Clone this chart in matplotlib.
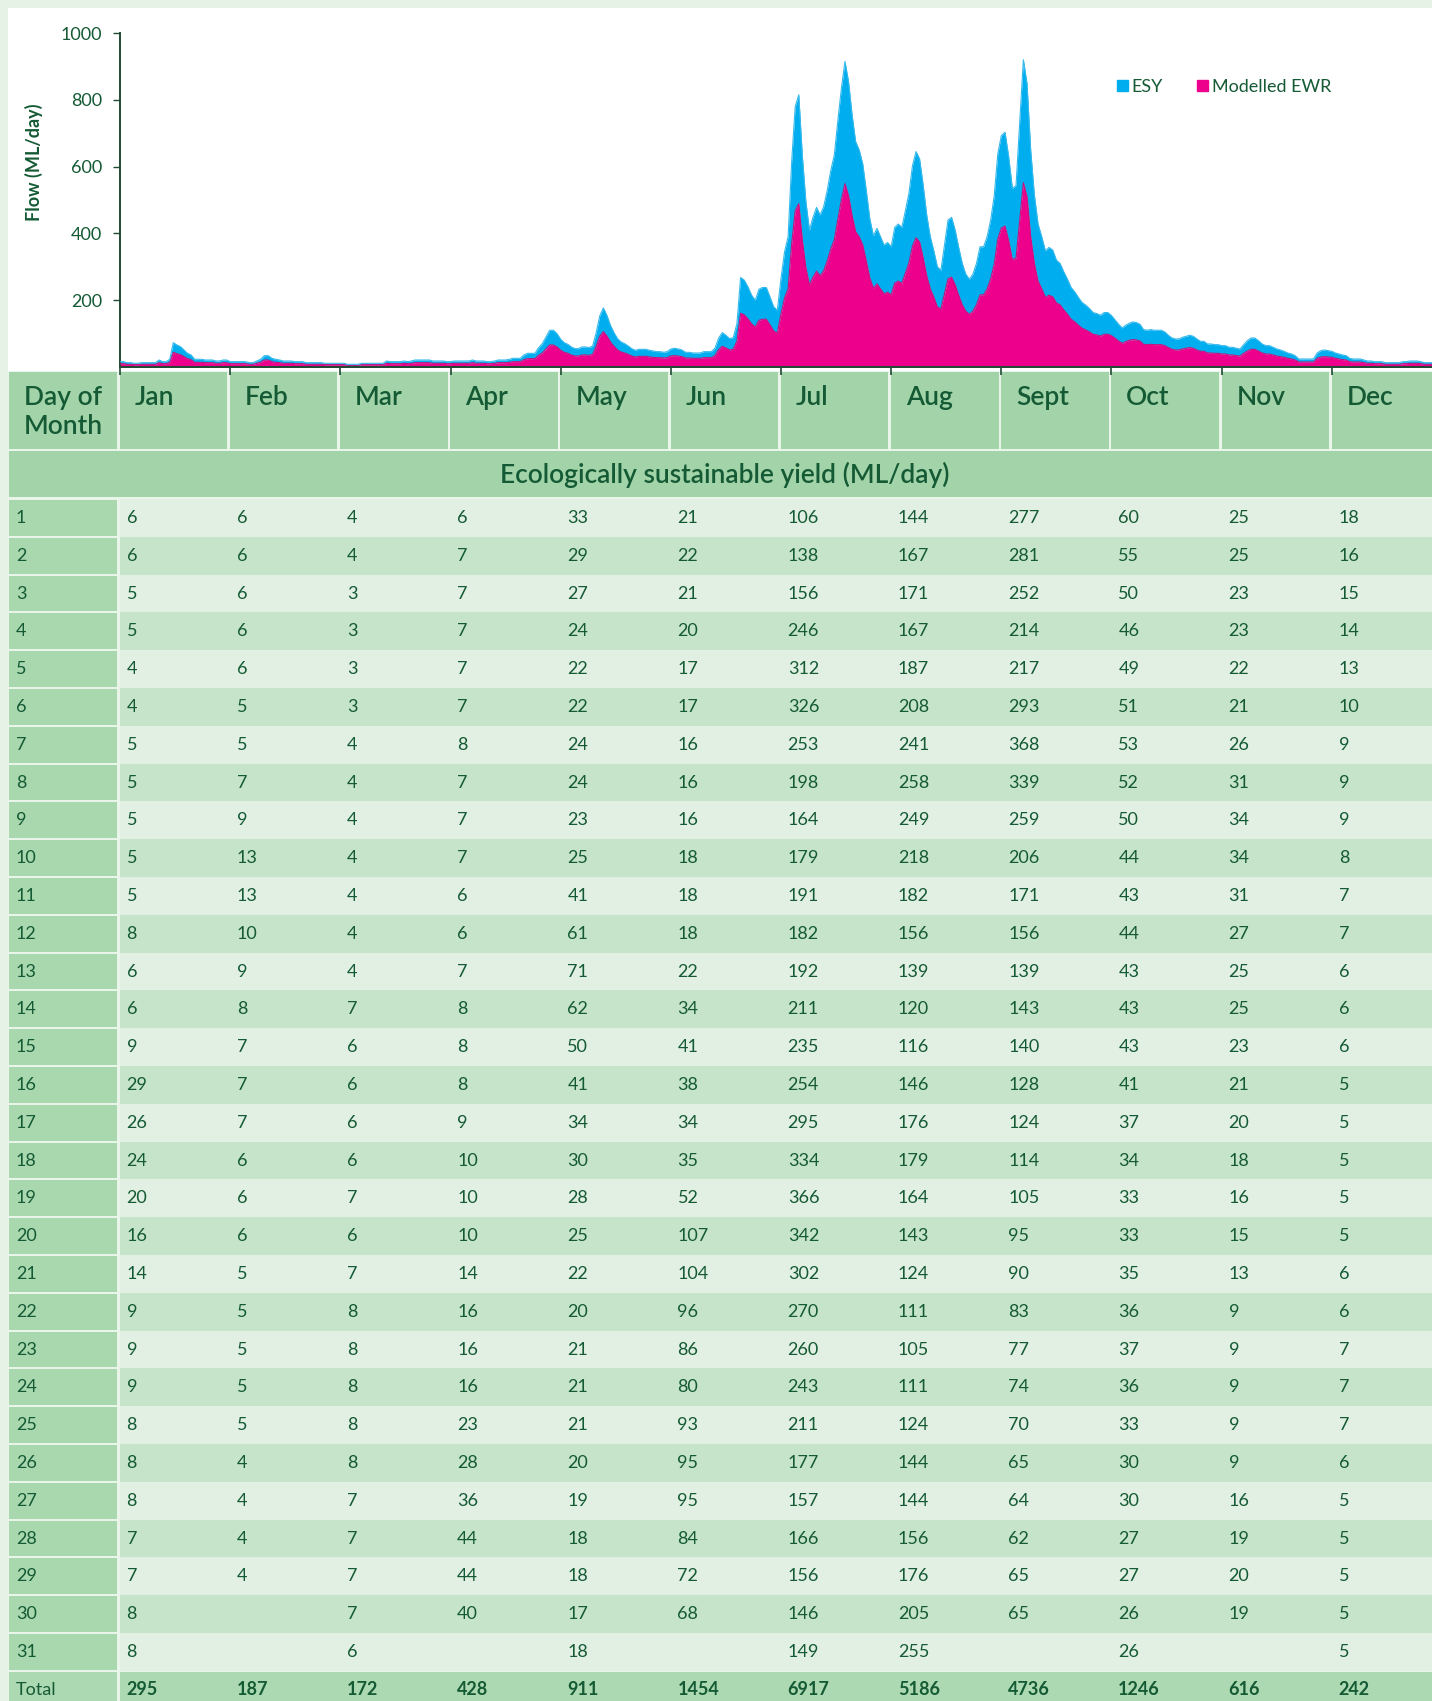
import matplotlib.pyplot as plt
from matplotlib.patches import Rectangle, Patch

plt.rcParams['font.family'] = ['Lato', 'DejaVu Sans']

# Table / chart data: ecologically sustainable yield (ML/day), by day of month
months = ['Jan', 'Feb', 'Mar', 'Apr', 'May', 'Jun',
          'Jul', 'Aug', 'Sept', 'Oct', 'Nov', 'Dec']

esy_jan = [6, 6, 5, 5, 4, 4, 5, 5, 5, 5, 5, 8, 6, 6, 9, 29, 26, 24, 20, 16, 14, 9, 9, 9, 8, 8, 8, 7, 7, 8, 8]
esy_feb = [6, 6, 6, 6, 6, 5, 5, 7, 9, 13, 13, 10, 9, 8, 7, 7, 7, 6, 6, 6, 5, 5, 5, 5, 5, 4, 4, 4, 4]
esy_mar = [4, 4, 3, 3, 3, 3, 4, 4, 4, 4, 4, 4, 4, 7, 6, 6, 6, 6, 7, 6, 7, 8, 8, 8, 8, 8, 7, 7, 7, 7, 6]
esy_apr = [6, 7, 7, 7, 7, 7, 8, 7, 7, 7, 6, 6, 7, 8, 8, 8, 9, 10, 10, 10, 14, 16, 16, 16, 23, 28, 36, 44, 44, 40]
esy_may = [33, 29, 27, 24, 22, 22, 24, 24, 23, 25, 41, 61, 71, 62, 50, 41, 34, 30, 28, 25, 22, 20, 21, 21, 21, 20, 19, 18, 18, 17, 18]
esy_jun = [21, 22, 21, 20, 17, 17, 16, 16, 16, 18, 18, 18, 22, 34, 41, 38, 34, 35, 52, 107, 104, 96, 86, 80, 93, 95, 95, 84, 72, 68]
esy_jul = [106, 138, 156, 246, 312, 326, 253, 198, 164, 179, 191, 182, 192, 211, 235, 254, 295, 334, 366, 342, 302, 270, 260, 243, 211, 177, 157, 166, 156, 146, 149]
esy_aug = [144, 167, 171, 167, 187, 208, 241, 258, 249, 218, 182, 156, 139, 120, 116, 146, 176, 179, 164, 143, 124, 111, 105, 111, 124, 144, 144, 156, 176, 205, 255]
esy_sep = [277, 281, 252, 214, 217, 293, 368, 339, 259, 206, 171, 156, 139, 143, 140, 128, 124, 114, 105, 95, 90, 83, 77, 74, 70, 65, 64, 62, 65, 65]
esy_oct = [60, 55, 50, 46, 49, 51, 53, 52, 50, 44, 43, 44, 43, 43, 43, 41, 37, 34, 33, 33, 35, 36, 37, 36, 33, 30, 30, 27, 27, 26, 26]
esy_nov = [25, 25, 23, 23, 22, 21, 26, 31, 34, 34, 31, 27, 25, 25, 23, 21, 20, 18, 16, 15, 13, 9, 9, 9, 9, 9, 16, 19, 20, 19]
esy_dec = [18, 16, 15, 14, 13, 10, 9, 9, 9, 8, 7, 7, 6, 6, 6, 5, 5, 5, 5, 5, 6, 6, 7, 7, 7, 6, 5, 5, 5, 5, 5]

totals = [295, 187, 172, 428, 911, 1454, 6917, 5186, 4736, 1246, 616, 242]

# Modelled EWR (pink band of the chart)
ewr_jan = [10, 10, 8, 8, 7, 7, 8, 8, 8, 8, 8, 13, 10, 10, 14, 44, 40, 37, 31, 25, 22, 14, 14, 14, 13, 13, 13, 11, 11, 13, 13]
ewr_feb = [10, 10, 10, 10, 10, 8, 8, 11, 14, 21, 21, 16, 14, 13, 11, 11, 11, 10, 10, 10, 8, 8, 8, 8, 8, 7, 7, 7, 7]
ewr_mar = [7, 7, 5, 5, 5, 5, 7, 7, 7, 7, 7, 7, 7, 11, 10, 10, 10, 10, 11, 10, 11, 13, 13, 13, 13, 13, 11, 11, 11, 11, 10]
ewr_apr = [10, 11, 11, 11, 11, 11, 13, 11, 11, 11, 10, 10, 11, 13, 13, 13, 14, 16, 16, 16, 22, 25, 25, 25, 35, 42, 54, 66, 66, 60]
ewr_may = [50, 44, 41, 36, 33, 33, 36, 36, 35, 38, 62, 92, 106, 93, 75, 62, 51, 45, 42, 38, 33, 30, 32, 32, 32, 30, 29, 28, 28, 27, 28]
ewr_jun = [33, 34, 33, 31, 27, 27, 26, 26, 26, 28, 28, 28, 34, 52, 62, 57, 51, 53, 78, 161, 156, 144, 129, 120, 140, 143, 143, 126, 108, 102]
ewr_jul = [159, 207, 234, 369, 468, 489, 380, 297, 246, 269, 287, 273, 288, 317, 353, 381, 443, 501, 549, 513, 453, 405, 390, 365, 317, 266, 236, 249, 234, 219, 224]
ewr_aug = [216, 251, 257, 251, 281, 312, 362, 387, 374, 327, 273, 234, 209, 180, 174, 219, 264, 269, 246, 215, 186, 167, 158, 167, 186, 216, 216, 234, 264, 308, 383]
ewr_sep = [416, 422, 378, 321, 326, 440, 552, 509, 389, 309, 257, 234, 209, 215, 210, 192, 186, 171, 158, 143, 135, 125, 116, 111, 105, 98, 96, 93, 98, 98]
ewr_oct = [94, 86, 78, 71, 76, 80, 82, 81, 78, 68, 67, 68, 67, 67, 67, 64, 58, 53, 51, 51, 54, 56, 58, 56, 51, 47, 47, 42, 42, 41, 41]
ewr_nov = [39, 39, 36, 36, 34, 33, 41, 48, 53, 53, 48, 42, 39, 39, 36, 33, 31, 29, 26, 24, 21, 15, 15, 15, 15, 15, 26, 30, 31, 30]
ewr_dec = [29, 26, 24, 22, 21, 16, 15, 15, 15, 13, 11, 11, 10, 10, 10, 8, 8, 8, 8, 8, 10, 10, 11, 11, 11, 10, 8, 8, 8, 8, 8]

esy = [esy_jan, esy_feb, esy_mar, esy_apr, esy_may, esy_jun,
       esy_jul, esy_aug, esy_sep, esy_oct, esy_nov, esy_dec]
ewr = [ewr_jan, ewr_feb, ewr_mar, ewr_apr, ewr_may, ewr_jun,
       ewr_jul, ewr_aug, ewr_sep, ewr_oct, ewr_nov, ewr_dec]

# Colours
BLUE = '#00aeef'
PINK = '#ec008c'
TXT = '#145a34'
AXC = '#1f4a33'
BORDER = '#e6f2e6'
GAP = '#eaf5ea'
HEAD = '#a3d4a9'
FIRST = '#a9d8ae'
ROW_A = '#e1f0e2'
ROW_B = '#c6e4c9'
TOTAL = '#acd9b1'

W, H = 1432, 1701
fig = plt.figure(figsize=(W / 100, H / 100), dpi=100, facecolor=BORDER)

# background + table, drawn in pixel units
bg = fig.add_axes([0, 0, 1, 1])
bg.set_xlim(0, W)
bg.set_ylim(H, 0)
bg.axis('off')

bg.add_patch(Rectangle((8, 8), W, 363, color='white', lw=0))

col_w = 110.2
col_x = [119.5 + col_w * m for m in range(12)]
row_top = 499
row_h = 37.8

# header row
bg.add_patch(Rectangle((8, 371), W, 80, color=GAP, lw=0))
bg.add_patch(Rectangle((9, 372), 108, 77, color=HEAD, lw=0))
bg.text(24, 397, 'Day of', fontsize=19, color=TXT, va='center', ha='left', fontweight='semibold')
bg.text(24, 426, 'Month', fontsize=19, color=TXT, va='center', ha='left', fontweight='semibold')
for m, name in enumerate(months):
    bg.add_patch(Rectangle((col_x[m], 372), col_w - 2.5, 77, color=HEAD, lw=0))
    bg.text(col_x[m] + 15, 397, name, fontsize=19, color=TXT, va='center', ha='left',
            fontweight='semibold')

# title band
bg.add_patch(Rectangle((9, 451), W, 46, color=HEAD, lw=0))
bg.text(725, 475, 'Ecologically sustainable yield (ML/day)', fontsize=19, color=TXT,
        ha='center', va='center', fontweight='semibold')

# day rows
bg.add_patch(Rectangle((8, row_top - 2), W, 31 * row_h + 60, color=GAP, lw=0))
for i in range(31):
    top = row_top + i * row_h
    cy = top + row_h / 2
    bg.add_patch(Rectangle((119.5, top), W, row_h, color=ROW_A if i % 2 == 0 else ROW_B, lw=0))
    bg.add_patch(Rectangle((9, top + 1), 108, row_h - 2, color=FIRST, lw=0))
    bg.text(16, cy, str(i + 1), fontsize=13, color=TXT, ha='left', va='center')
    for m in range(12):
        if i < len(esy[m]):
            bg.text(col_x[m] + 7, cy, str(esy[m][i]), fontsize=13, color=TXT,
                    ha='left', va='center')

# total row
top = row_top + 31 * row_h
cy = top + row_h / 2
bg.add_patch(Rectangle((119.5, top + 1), W, row_h, color=TOTAL, lw=0))
bg.add_patch(Rectangle((9, top + 1), 108, row_h, color=TOTAL, lw=0))
bg.text(16, cy, 'Total', fontsize=13, color=TXT, ha='left', va='center')
for m in range(12):
    bg.text(col_x[m] + 7, cy, str(totals[m]), fontsize=13, color=TXT, ha='left',
            va='center', fontweight='bold')

# chart
ax = fig.add_axes([120 / W, 1 - 367 / H, 1322 / W, 334 / H])
ax.patch.set_alpha(0)

x, low, high = [], [], []
for m in range(12):
    n = len(esy[m])
    for d in range(n):
        x.append(m + d / n)
        low.append(ewr[m][d])
        high.append(ewr[m][d] + esy[m][d])

ax.fill_between(x, 0, low, color=PINK, lw=0, zorder=2)
ax.fill_between(x, low, high, color=BLUE, lw=0, zorder=1)
ax.plot(x, low, color='#c4147e', lw=0.8, zorder=3)
ax.plot(x, high, color='#36b9ec', lw=0.8, zorder=3)

ax.set_xlim(0, 12)
ax.set_ylim(0, 1000)
ax.set_yticks([200, 400, 600, 800, 1000])
ax.set_xticks(range(12))
ax.tick_params(axis='y', direction='out', length=5, width=1, pad=8, labelsize=13,
               colors=AXC, labelcolor=TXT)
ax.tick_params(axis='x', direction='out', length=6, width=1.2, colors=AXC, labelbottom=False)
for side in ['top', 'right']:
    ax.spines[side].set_visible(False)
for side in ['left', 'bottom']:
    ax.spines[side].set_color(AXC)
    ax.spines[side].set_linewidth(1.4)

fig.text(34 / W, 1 - 162 / H, 'Flow (ML/day)', rotation=90, ha='center', va='center',
         fontsize=13, fontweight='bold', color=TXT)

handles = [Patch(color=BLUE, label='ESY'), Patch(color=PINK, label='Modelled EWR')]
ax.legend(handles=handles, ncol=2, frameon=False, loc='center left',
          bbox_to_anchor=(1117 / W, 1 - 87 / H), bbox_transform=fig.transFigure,
          borderaxespad=0, borderpad=0, handlelength=0.6, handleheight=0.6,
          handletextpad=0.2, columnspacing=1.9, fontsize=13, labelcolor=TXT)

fig.savefig('out.png', dpi=100, facecolor=BORDER)
